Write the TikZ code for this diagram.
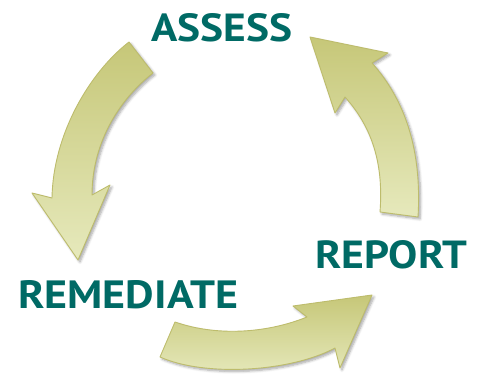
\documentclass[tikz,border=0pt]{standalone}
\usepackage{fontspec}
\usepackage{graphicx}
\newfontfamily\labfont{PT Sans}
\usetikzlibrary{shadows.blur}
\definecolor{teal1}{HTML}{006A65}
\definecolor{olivetop}{HTML}{C6C778}
\definecolor{olivebot}{HTML}{E6E9BC}
\definecolor{oliveedge}{HTML}{BDBC6C}
\tikzset{
  blockarrow/.style={draw=oliveedge, line width=0.9pt, line join=round,
    top color=olivetop, bottom color=olivebot,
    blur shadow={shadow xshift=2pt, shadow yshift=-2pt, shadow opacity=35, shadow blur steps=6, shadow blur radius=2.5pt}},
  lab/.style={inner sep=0pt, anchor=north west, text=teal1}
}
\begin{document}
\begin{tikzpicture}[x=1pt,y=-1pt]
\useasboundingbox (0,0) rectangle (480,377);
% left arrow: ASSESS -> REMEDIATE
\path[blockarrow] (129,42) -- (153,73) .. controls (122,97) and (92,140) .. (92,195)
  -- (110,185) -- (78,260) -- (32,193) -- (52,198)
  .. controls (53,135) and (89,73) .. (129,42) -- cycle;
% bottom arrow: REMEDIATE -> REPORT
\path[blockarrow] (175,322) .. controls (215,336) and (265,334) .. (307,317)
  -- (293,306) -- (372,295) -- (340,368) -- (335,348)
  .. controls (290,372) and (205,377) .. (160,357) -- cycle;
% right arrow: REPORT -> ASSESS
\path[blockarrow] (380,212) -- (418,217) .. controls (422,150) and (405,100) .. (372,63)
  -- (388,53) -- (310,37) -- (335,113) -- (345,97)
  .. controls (370,125) and (384,160) .. (380,212) -- cycle;
% labels
\node[lab] (tA) at (151,13) {\resizebox{141pt}{28pt}{\labfont\bfseries ASSESS}};
\node[lab] (tR) at (18,280) {\resizebox{220pt}{28pt}{\labfont\bfseries REMEDIATE}};
\node[lab] (tP) at (315,240) {\resizebox{152pt}{28pt}{\labfont\bfseries REPORT}};
\end{tikzpicture}
\end{document}
